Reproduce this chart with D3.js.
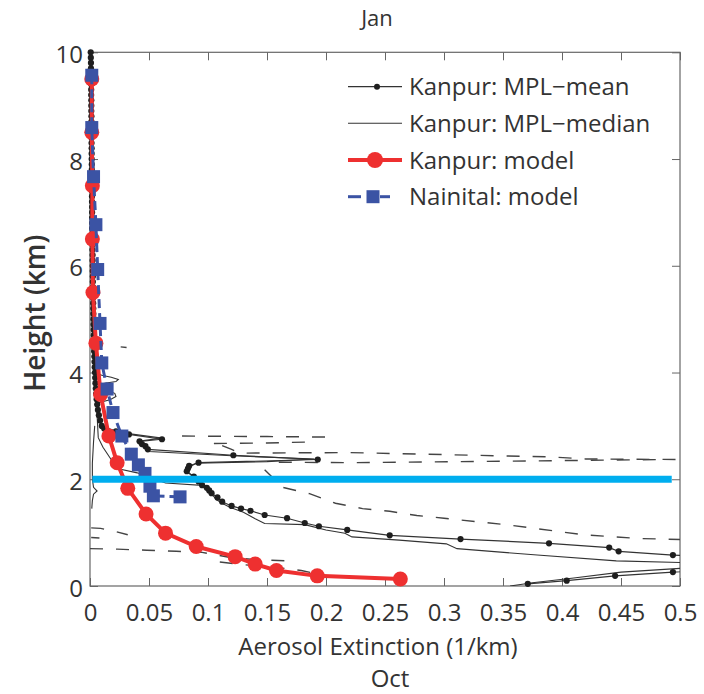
<!DOCTYPE html>
<html>
<head>
<meta charset="utf-8">
<script src="https://cdn.jsdelivr.net/npm/d3@7"></script>
<style>
  html, body { margin: 0; padding: 0; background: #fff; }
  svg { display: block; font-family: "Open Sans", sans-serif; }
</style>
</head>
<body>
<svg id="chart" width="704" height="694"></svg>
<script>
// Axis ticks
const xTicks = [0, 0.05, 0.1, 0.15, 0.2, 0.25, 0.3, 0.35, 0.4, 0.45, 0.5];
const xTickLabels = ["0", "0.05", "0.1", "0.15", "0.2", "0.25", "0.3", "0.35", "0.4", "0.45", "0.5"];
const yTicks = [0, 2, 4, 6, 8, 10];
const yTickLabels = ["0", "2", "4", "6", "8", "10"];

// Kanpur MPL mean profile: [height km, extinction 1/km]
const kanpurMean = [
  [10.0,0.0006],[9.9,0.0007],[9.8,0.0008],[9.7,0.0008],[9.6,0.0009],[9.5,0.0009],[9.4,0.0010],[9.3,0.0010],[9.2,0.0010],[9.1,0.0011],[9.0,0.0011],
  [8.9,0.0011],[8.8,0.0012],[8.7,0.0012],[8.6,0.0012],[8.5,0.0013],[8.4,0.0013],[8.3,0.0013],[8.2,0.0014],[8.1,0.0014],[8.0,0.0014],
  [7.9,0.0015],[7.8,0.0015],[7.7,0.0015],[7.6,0.0016],[7.5,0.0016],[7.4,0.0016],[7.3,0.0017],[7.2,0.0017],[7.1,0.0018],[7.0,0.0018],
  [6.9,0.0018],[6.8,0.0019],[6.7,0.0019],[6.6,0.0020],[6.5,0.0020],[6.4,0.0021],[6.3,0.0021],[6.2,0.0022],[6.1,0.0022],[6.0,0.0023],
  [5.9,0.0023],[5.8,0.0024],[5.7,0.0024],[5.6,0.0025],[5.5,0.0026],[5.4,0.0026],[5.3,0.0027],[5.2,0.0028],[5.1,0.0028],[5.0,0.0029],
  [4.9,0.0030],[4.8,0.0031],[4.7,0.0032],[4.6,0.0033],[4.5,0.0034],[4.4,0.0035],[4.3,0.0037],[4.2,0.0038],[4.1,0.0040],[4.0,0.0042],
  [3.9,0.0044],[3.8,0.0046],[3.7,0.0049],[3.6,0.0052],[3.5,0.0056],[3.4,0.0061],[3.3,0.0067],[3.2,0.0075],[3.1,0.0086],[3.0,0.0100],
  [2.95,0.012],[2.90,0.022],[2.84,0.033],[2.75,0.061],[2.71,0.042],[2.66,0.044],[2.62,0.047],[2.56,0.049],
  [2.45,0.1215],[2.37,0.193],[2.31,0.092],[2.25,0.084],[2.20,0.083],[2.15,0.082],[2.05,0.088],[1.96,0.092],
  [1.89,0.095],[1.84,0.099],[1.79,0.101],[1.74,0.103],[1.66,0.108],[1.58,0.112],[1.50,0.120],[1.45,0.128],
  [1.41,0.136],[1.33,0.148],[1.27,0.167],[1.18,0.182],[1.12,0.194],[1.05,0.218],[0.95,0.254],[0.88,0.314],
  [0.80,0.389],[0.72,0.440],[0.65,0.448],[0.58,0.494],[0.50,0.56],[0.42,0.60],[0.34,0.56],[0.26,0.494],
  [0.19,0.445],[0.10,0.404],[0.04,0.371]
];

// Kanpur MPL median profile
const kanpurMedian = [
  [10.0,0.0004],[9.5,0.0006],[9.0,0.0008],[8.5,0.0009],[8.0,0.0011],[7.5,0.0012],[7.0,0.0014],[6.5,0.0016],
  [6.0,0.0018],[5.5,0.0021],[5.0,0.0024],[4.5,0.0028],[4.2,0.0032],[4.0,0.0036],[3.95,0.010],[3.91,0.018],
  [3.87,0.024],[3.83,0.022],[3.79,0.010],[3.70,0.006],[3.66,0.015],[3.61,0.021],[3.55,0.022],[3.49,0.017],
  [3.44,0.008],[3.3,0.0065],[3.1,0.0085],[3.0,0.0095],[2.92,0.020],[2.86,0.031],[2.77,0.061],[2.72,0.043],
  [2.60,0.048],[2.52,0.050],[2.44,0.120],[2.38,0.190],[2.33,0.150],[2.30,0.090],[2.24,0.085],[2.15,0.082],
  [2.05,0.087],[1.96,0.091],[1.87,0.098],[1.80,0.101],[1.70,0.104],[1.62,0.107],[1.55,0.112],[1.48,0.118],
  [1.38,0.130],[1.26,0.140],[1.17,0.148],[1.15,0.182],[1.05,0.200],[0.99,0.216],[0.92,0.222],[0.86,0.262],
  [0.79,0.302],[0.70,0.311],[0.58,0.379],[0.47,0.446],[0.44,0.50],[0.40,0.56],[0.36,0.56],[0.33,0.50],
  [0.26,0.45],[0.15,0.41],[0.06,0.375],[0.0,0.356]
];

// Additional thin solid MPL profiles near the surface layer
const thinProfileA = [[3.2,0.006],[2.78,0.007],[2.6,0.011],[2.3,0.020],[2.19,0.025],[2.12,0.040],[1.93,0.064],[1.88,0.098]];
const thinProfileB = [[3.0,0.004],[2.7,0.003],[2.3,0.002],[2.0,0.002],[1.85,0.003],[1.78,0.006],[1.72,0.003],[1.6,0.002],[1.45,0.0015]];

// Dashed MPL profiles
const dashA = [[2.81,0.078],[2.80,0.15],[2.79,0.206]];
const dashB = [[2.67,0.105],[2.68,0.15],[2.70,0.19]];
const dashC = [[2.63,0.112],[2.56,0.12],[2.49,0.127],[2.50,0.22],[2.44,0.345],[2.42,0.39],[2.38,0.42],[2.37,0.5]];
const dashD = [[2.32,0.16],[2.31,0.22],[2.34,0.358],[2.37,0.489]];
const dashE = [[2.18,0.148],[1.85,0.163],[1.73,0.186],[1.55,0.208],[1.45,0.231],[1.40,0.254],[1.32,0.277],[1.27,0.30],[1.14,0.356],[0.96,0.418],[0.89,0.466],[0.87,0.5]];
const dashF = [[0.70,0.0],[0.69,0.023],[0.67,0.048],[0.65,0.073],[0.63,0.095],[0.53,0.12],[0.49,0.143],[0.47,0.17]];
const dashG = [[0.45,0.11],[0.41,0.126],[0.36,0.148],[0.33,0.165],[0.29,0.179],[0.21,0.196],[0.17,0.205]];
const dashH = [[1.09,0.001],[1.08,0.009],[1.03,0.02],[0.96,0.032]];
const dashI = [[0.91,0.001],[0.90,0.008]];
const dashJ = [[4.48,0.026],[4.47,0.031]];

// Model profiles
const kanpurModel = [
  [9.5,0.0015],[8.5,0.0015],[7.5,0.002],[6.5,0.002],[5.5,0.0025],[4.55,0.005],[3.59,0.009],[2.81,0.016],
  [2.31,0.023],[1.83,0.032],[1.35,0.0475],[0.99,0.064],[0.74,0.09],[0.55,0.123],[0.41,0.14],[0.29,0.158],
  [0.19,0.1926],[0.13,0.263]
];
const nainitalModel = [
  [9.57,0.0015],[8.59,0.0015],[7.67,0.003],[6.77,0.005],[5.93,0.0065],[4.92,0.0085],[4.18,0.010],[3.69,0.0145],
  [3.25,0.0195],[2.81,0.027],[2.47,0.035],[2.27,0.041],[2.11,0.0466],[1.87,0.0508],[1.69,0.0537],[1.67,0.0763]
];

// Boundary-layer marker
const blHeight = 2;
const blExtent = [0.002, 0.493];

const legendLabels = ["Kanpur: MPL\u2212mean", "Kanpur: MPL\u2212median", "Kanpur: model", "Nainital: model"];

const svg = d3.select("#chart");
const x = d3.scaleLinear().domain([0, 0.5]).range([90, 680]);
const y = d3.scaleLinear().domain([0, 10]).range([586, 52.3]);

const textColor = "#333";
const axisColor = "#666";
const red = "#ee3030";
const blue = "#3b53a4";
const cyan = "#00aeef";

svg.append("defs").append("clipPath").attr("id", "plotClip")
  .append("rect")
  .attr("x", x(0)).attr("y", y(10))
  .attr("width", x(0.5) - x(0)).attr("height", y(0) - y(10));

const line = d3.line().x(d => x(d[1])).y(d => y(d[0]));

// Title and labels
svg.append("text").attr("x", 377).attr("y", 26).attr("text-anchor", "middle")
  .attr("font-size", 22).attr("fill", textColor).text("Jan");
svg.append("text").attr("x", 378).attr("y", 655).attr("text-anchor", "middle")
  .attr("font-size", 24).attr("fill", textColor).text("Aerosol Extinction (1/km)");
svg.append("text").attr("x", 390).attr("y", 687).attr("text-anchor", "middle")
  .attr("font-size", 24).attr("fill", textColor).text("Oct");
svg.append("text")
  .attr("transform", `translate(45,${(y(0) + y(10)) / 2 - 6}) rotate(-90)`)
  .attr("text-anchor", "middle").attr("font-size", 28).attr("font-weight", 600)
  .attr("fill", textColor).text("Height (km)");

// Axes with inward ticks on all four sides
function styleAxis(g) {
  g.selectAll("path.domain").remove();
  g.selectAll(".tick line").attr("stroke", axisColor).attr("stroke-width", 1);
  g.selectAll(".tick text").attr("fill", textColor).attr("font-size", 24)
    .attr("font-family", "Open Sans, sans-serif");
}
svg.append("g").attr("transform", `translate(0,${y(0)})`)
  .call(d3.axisBottom(x).tickValues(xTicks).tickFormat((d, i) => xTickLabels[i]).tickSize(-8).tickPadding(18))
  .call(styleAxis);
svg.append("g").attr("transform", `translate(0,${y(10)})`)
  .call(d3.axisTop(x).tickValues(xTicks).tickFormat("").tickSize(-8))
  .call(styleAxis);
svg.append("g").attr("transform", `translate(${x(0)},0)`)
  .call(d3.axisLeft(y).tickValues(yTicks).tickFormat((d, i) => yTickLabels[i]).tickSize(-8).tickPadding(7))
  .call(styleAxis)
  .selectAll(".tick text").attr("dy", "0.42em");
svg.append("g").attr("transform", `translate(${x(0.5)},0)`)
  .call(d3.axisRight(y).tickValues(yTicks).tickFormat("").tickSize(-8))
  .call(styleAxis);

svg.append("rect")
  .attr("x", x(0)).attr("y", y(10))
  .attr("width", x(0.5) - x(0)).attr("height", y(0) - y(10))
  .attr("fill", "none").attr("stroke", axisColor).attr("stroke-width", 1.2);

const plot = svg.append("g");
const clipped = plot.append("g").attr("clip-path", "url(#plotClip)");

// Dashed profiles
[dashA, dashB, dashC, dashD, dashE, dashF, dashG, dashH, dashI, dashJ].forEach(p => {
  clipped.append("path").datum(p).attr("d", line)
    .attr("fill", "none").attr("stroke", "#444").attr("stroke-width", 1.4)
    .attr("stroke-dasharray", "13,13");
});

// Thin solid profiles
[thinProfileA, thinProfileB, kanpurMedian].forEach(p => {
  clipped.append("path").datum(p).attr("d", line)
    .attr("fill", "none").attr("stroke", "#333").attr("stroke-width", 1.1);
});

// Mean profile with dots (dots outside the x range are dropped)
clipped.append("path").datum(kanpurMean).attr("d", line)
  .attr("fill", "none").attr("stroke", "#333").attr("stroke-width", 1.2);
plot.selectAll("circle.mean").data(kanpurMean.filter(d => d[1] <= 0.5))
  .join("circle").attr("class", "mean")
  .attr("cx", d => x(d[1])).attr("cy", d => y(d[0])).attr("r", 3.1)
  .attr("fill", "#1e1e1e");

// Kanpur model
plot.append("path").datum(kanpurModel).attr("d", line)
  .attr("fill", "none").attr("stroke", red).attr("stroke-width", 4);
plot.selectAll("circle.kmodel").data(kanpurModel).join("circle").attr("class", "kmodel")
  .attr("cx", d => x(d[1])).attr("cy", d => y(d[0])).attr("r", 7.5).attr("fill", red);

// Nainital model
plot.append("path").datum(nainitalModel).attr("d", line)
  .attr("fill", "none").attr("stroke", blue).attr("stroke-width", 3)
  .attr("stroke-dasharray", "9,5");
const sq = 13;
plot.selectAll("rect.nmodel").data(nainitalModel).join("rect").attr("class", "nmodel")
  .attr("x", d => x(d[1]) - sq / 2).attr("y", d => y(d[0]) - sq / 2)
  .attr("width", sq).attr("height", sq).attr("fill", blue);

// Boundary-layer line
plot.append("line")
  .attr("x1", x(blExtent[0])).attr("x2", x(blExtent[1]))
  .attr("y1", y(blHeight)).attr("y2", y(blHeight))
  .attr("stroke", cyan).attr("stroke-width", 7);

// Legend
const legend = svg.append("g");
const rowY = [86.7, 123.3, 160, 196.7];
const lx0 = 348, lx1 = 402, lxm = 375;
legendLabels.forEach((t, i) => {
  legend.append("text").attr("x", 409).attr("y", rowY[i] + 8.5)
    .attr("font-size", 24).attr("fill", textColor).text(t);
});
legend.append("line").attr("x1", lx0).attr("x2", lx1).attr("y1", rowY[0]).attr("y2", rowY[0])
  .attr("stroke", "#333").attr("stroke-width", 1.2);
legend.append("circle").attr("cx", lxm + 2).attr("cy", rowY[0]).attr("r", 3).attr("fill", "#1e1e1e");
legend.append("line").attr("x1", lx0).attr("x2", lx1).attr("y1", rowY[1]).attr("y2", rowY[1])
  .attr("stroke", "#333").attr("stroke-width", 1.1);
legend.append("line").attr("x1", lx0).attr("x2", lx1).attr("y1", rowY[2]).attr("y2", rowY[2])
  .attr("stroke", red).attr("stroke-width", 4);
legend.append("circle").attr("cx", lxm).attr("cy", rowY[2]).attr("r", 8).attr("fill", red);
legend.append("line").attr("x1", lx0).attr("x2", 361).attr("y1", rowY[3]).attr("y2", rowY[3])
  .attr("stroke", blue).attr("stroke-width", 3);
legend.append("line").attr("x1", 380).attr("x2", 390).attr("y1", rowY[3]).attr("y2", rowY[3])
  .attr("stroke", blue).attr("stroke-width", 3);
legend.append("rect").attr("x", 373 - sq / 2).attr("y", rowY[3] - sq / 2)
  .attr("width", sq).attr("height", sq).attr("fill", blue);
</script>
</body>
</html>
